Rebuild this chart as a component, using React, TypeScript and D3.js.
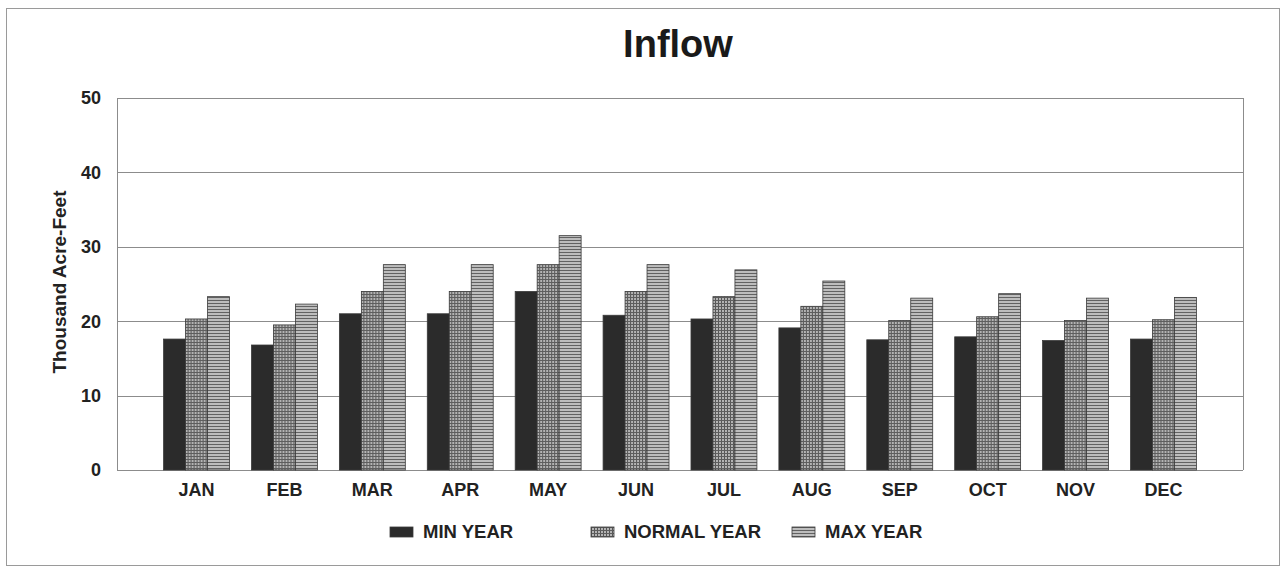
import { useRef, useEffect } from "react";
import * as d3 from "d3";

const months = ["JAN", "FEB", "MAR", "APR", "MAY", "JUN", "JUL", "AUG", "SEP", "OCT", "NOV", "DEC"];
const minYear = [17.6, 16.8, 21.0, 21.0, 24.0, 20.8, 20.3, 19.1, 17.5, 17.9, 17.4, 17.6];
const normalYear = [20.3, 19.5, 24.0, 24.0, 27.6, 24.0, 23.3, 22.0, 20.1, 20.6, 20.1, 20.2];
const maxYear = [23.3, 22.3, 27.6, 27.6, 31.5, 27.6, 26.9, 25.4, 23.1, 23.7, 23.1, 23.2];
const seriesNames = ["MIN YEAR", "NORMAL YEAR", "MAX YEAR"];
const yTicks = [0, 10, 20, 30, 40, 50];

const WIDTH = 1285;
const HEIGHT = 569;
const FONT = "'Liberation Sans', Arial, sans-serif";

export default function App() {
  const ref = useRef<SVGSVGElement>(null);

  useEffect(() => {
    if (!ref.current) return;
    const svg = d3.select(ref.current);
    svg.selectAll("*").remove();

    const plot = { left: 117, right: 1243, top: 98, bottom: 470 };
    const fills = ["#2b2b2b", "url(#pat-normal)", "url(#pat-max)"];
    const series = [minYear, normalYear, maxYear];

    // patterns
    const defs = svg.append("defs");
    const pn = defs
      .append("pattern")
      .attr("id", "pat-normal")
      .attr("patternUnits", "userSpaceOnUse")
      .attr("width", 3)
      .attr("height", 3);
    pn.append("rect").attr("width", 3).attr("height", 3).attr("fill", "#b4b4b4");
    pn.append("rect").attr("x", 0).attr("width", 1).attr("height", 3).attr("fill", "#555");
    pn.append("rect").attr("y", 0).attr("width", 3).attr("height", 1).attr("fill", "#5e5e5e");

    const pm = defs
      .append("pattern")
      .attr("id", "pat-max")
      .attr("patternUnits", "userSpaceOnUse")
      .attr("width", 4)
      .attr("height", 3);
    pm.append("rect").attr("width", 4).attr("height", 3).attr("fill", "#bdbdbd");
    pm.append("rect").attr("y", 0).attr("width", 4).attr("height", 1).attr("fill", "#626262");

    // background + outer frame
    svg.append("rect").attr("width", WIDTH).attr("height", HEIGHT).attr("fill", "#fff");
    svg
      .append("rect")
      .attr("x", 6.5)
      .attr("y", 8.5)
      .attr("width", 1273)
      .attr("height", 557)
      .attr("fill", "none")
      .attr("stroke", "#9a9a9a")
      .attr("stroke-width", 1);

    // Scales
    const x0 = d3
      .scaleBand()
      .domain(months)
      .range([plot.left, plot.right])
      .paddingInner(0.25)
      .paddingOuter(0.53);
    const x1 = d3.scaleBand().domain(seriesNames).range([0, x0.bandwidth()]);
    const y = d3.scaleLinear().domain([0, 50]).range([plot.bottom, plot.top]);

    // gridlines
    svg
      .append("g")
      .selectAll("line")
      .data(yTicks)
      .join("line")
      .attr("x1", plot.left)
      .attr("x2", plot.right)
      .attr("y1", (d) => Math.round(y(d)) + 0.5)
      .attr("y2", (d) => Math.round(y(d)) + 0.5)
      .attr("stroke", "#8c8c8c")
      .attr("stroke-width", 1);

    // plot frame sides
    svg
      .append("line")
      .attr("x1", plot.left + 0.5)
      .attr("x2", plot.left + 0.5)
      .attr("y1", plot.top)
      .attr("y2", plot.bottom)
      .attr("stroke", "#8c8c8c");
    svg
      .append("line")
      .attr("x1", plot.right + 0.5)
      .attr("x2", plot.right + 0.5)
      .attr("y1", plot.top)
      .attr("y2", plot.bottom)
      .attr("stroke", "#8c8c8c");

    // bars
    const groups = svg
      .append("g")
      .selectAll("g")
      .data(months)
      .join("g")
      .attr("transform", (m) => `translate(${x0(m)},0)`);

    groups
      .selectAll("rect")
      .data((m, i) => series.map((s, k) => ({ key: seriesNames[k], value: s[i], k })))
      .join("rect")
      .attr("x", (d) => x1(d.key) as number)
      .attr("y", (d) => y(d.value))
      .attr("width", x1.bandwidth())
      .attr("height", (d) => y(0) - y(d.value))
      .attr("fill", (d) => fills[d.k])
      .attr("stroke", "#3a3a3a")
      .attr("stroke-width", 0.8);

    // y axis labels
    svg
      .append("g")
      .selectAll("text")
      .data(yTicks)
      .join("text")
      .attr("x", 101)
      .attr("y", (d) => y(d))
      .attr("dy", "0.35em")
      .attr("text-anchor", "end")
      .attr("font-family", FONT)
      .attr("font-weight", "bold")
      .attr("font-size", 18)
      .attr("fill", "#222")
      .text((d) => d);

    // x axis labels
    svg
      .append("g")
      .selectAll("text")
      .data(months)
      .join("text")
      .attr("x", (m) => (x0(m) as number) + x0.bandwidth() / 2)
      .attr("y", 496)
      .attr("text-anchor", "middle")
      .attr("font-family", FONT)
      .attr("font-weight", "bold")
      .attr("font-size", 18)
      .attr("fill", "#222")
      .text((m) => m);

    // y axis title
    svg
      .append("text")
      .attr("transform", `translate(66,282) rotate(-90)`)
      .attr("text-anchor", "middle")
      .attr("font-family", FONT)
      .attr("font-weight", "bold")
      .attr("font-size", 19)
      .attr("fill", "#222")
      .text("Thousand Acre-Feet");

    // title
    svg
      .append("text")
      .attr("x", 678)
      .attr("y", 57)
      .attr("text-anchor", "middle")
      .attr("font-family", FONT)
      .attr("font-weight", "bold")
      .attr("font-size", 38)
      .attr("fill", "#1a1a1a")
      .text("Inflow");

    // legend
    const legendX = [390, 591, 792];
    const leg = svg
      .append("g")
      .selectAll("g")
      .data(seriesNames)
      .join("g")
      .attr("transform", (_, i) => `translate(${legendX[i]},527)`);
    leg
      .append("rect")
      .attr("width", 23)
      .attr("height", 10)
      .attr("fill", (_, i) => fills[i])
      .attr("stroke", "#3a3a3a")
      .attr("stroke-width", 0.8);
    leg
      .append("text")
      .attr("x", 33)
      .attr("y", 5)
      .attr("dy", "0.35em")
      .attr("font-family", FONT)
      .attr("font-weight", "bold")
      .attr("font-size", 18.5)
      .attr("fill", "#222")
      .text((d) => d);
  }, []);

  return (
    <svg
      ref={ref}
      width={WIDTH}
      height={HEIGHT}
      style={{ position: "absolute", left: 0, top: 0, display: "block" }}
    />
  );
}
